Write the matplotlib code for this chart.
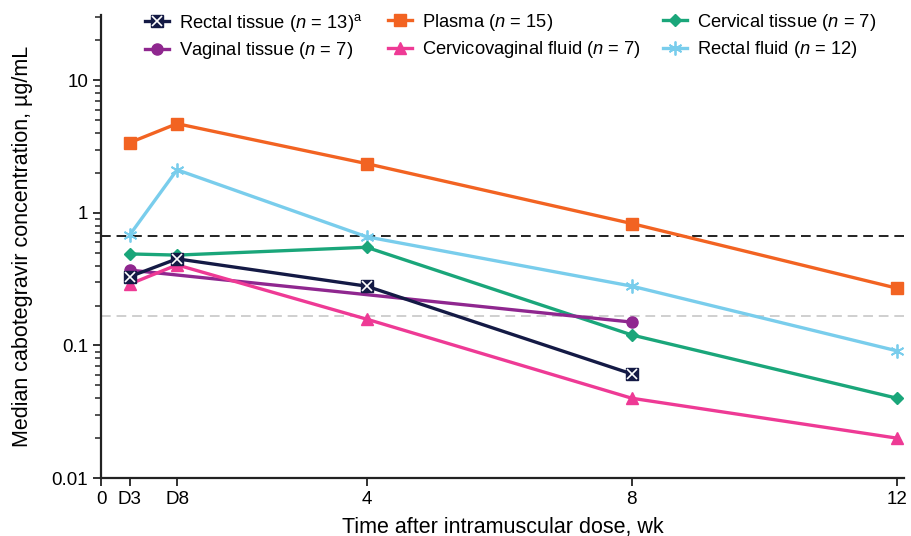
import matplotlib
matplotlib.use("Agg")
import matplotlib.pyplot as plt
from matplotlib.ticker import LogLocator, FixedLocator, NullFormatter

plt.rcParams['font.family'] = ['Liberation Sans', 'DejaVu Sans']
plt.rcParams['mathtext.fontset'] = 'custom'
plt.rcParams['mathtext.rm'] = 'Liberation Sans'
plt.rcParams['mathtext.it'] = 'Liberation Sans:italic'

# time points in weeks
t_all = [3/7, 8/7, 4, 8, 12]
x_ticks = [0, 3/7, 8/7, 4, 8, 12]
x_ticklabels = ["0", "D3", "D8", "4", "8", "12"]

rectal_tissue_t = [3/7, 8/7, 4, 8]
rectal_tissue = [0.33, 0.45, 0.28, 0.061]
plasma = [3.38, 4.7, 2.35, 0.83, 0.27]
cervical_tissue = [0.49, 0.48, 0.55, 0.12, 0.04]
vaginal_tissue_t = [3/7, 8]
vaginal_tissue = [0.37, 0.15]
cvf = [0.29, 0.405, 0.158, 0.04, 0.02]
rectal_fluid = [0.68, 2.11, 0.66, 0.28, 0.091]

ref_high = 0.664
ref_low = 0.166

c_rt = '#141a45'
c_pl = '#f26322'
c_ct = '#1aa67a'
c_vt = '#8f278f'
c_cvf = '#ee3a95'
c_rf = '#79cdec'

fig = plt.figure(figsize=(9.12, 5.36), dpi=100)
ax = fig.add_axes([0.111, 0.108, 0.880, 0.864])

ax.axhline(ref_high, color='#222222', lw=1.4, ls=(0, (5, 3)), zorder=1)
ax.axhline(ref_low, color='#cfcfcf', lw=1.4, ls=(0, (5, 3)), zorder=1)

lw = 2.4
h_pl, = ax.plot(t_all, plasma, color=c_pl, lw=lw, marker='s', ms=8, zorder=3, clip_on=False)
h_rf, = ax.plot(t_all, rectal_fluid, color=c_rf, lw=lw, marker=(6, 2, 0), ms=10, mew=1.3, zorder=3, clip_on=False)
h_ct, = ax.plot(t_all, cervical_tissue, color=c_ct, lw=lw, marker='D', ms=6, zorder=3, clip_on=False)
h_vt, = ax.plot(vaginal_tissue_t, vaginal_tissue, color=c_vt, lw=lw, marker='o', ms=8, zorder=3, clip_on=False)
h_cvf, = ax.plot(t_all, cvf, color=c_cvf, lw=lw, marker='^', ms=8, zorder=3, clip_on=False)
h_rt, = ax.plot(rectal_tissue_t, rectal_tissue, color=c_rt, lw=lw, marker='s', ms=9, zorder=4, clip_on=False)
h_rtx, = ax.plot(rectal_tissue_t, rectal_tissue, ls='none', color='white', marker='x', ms=7, mew=1.2, zorder=5, clip_on=False)

ax.set_yscale('log')
ax.set_ylim(0.01, 31)
ax.set_xlim(0, 12.1)
ax.yaxis.set_major_locator(FixedLocator([0.01, 0.1, 1, 10]))
ax.set_yticklabels(["0.01", "0.1", "1", "10"])
ax.yaxis.set_minor_locator(LogLocator(base=10, subs=range(2, 10)))
ax.yaxis.set_minor_formatter(NullFormatter())
ax.set_xticks(x_ticks)
ax.set_xticklabels(x_ticklabels)

for s in ['top', 'right']:
    ax.spines[s].set_visible(False)
for s in ['left', 'bottom']:
    ax.spines[s].set_linewidth(1.6)
    ax.spines[s].set_color('#222222')
ax.tick_params(axis='both', which='major', length=6, width=1.3, labelsize=13.5, color='#222222')
ax.tick_params(axis='y', which='minor', length=4, width=1.1, color='#222222')

ax.set_xlabel("Time after intramuscular dose, wk", fontsize=15.5, labelpad=6)
ax.set_ylabel("Median cabotegravir concentration, µg/mL", fontsize=15.5, labelpad=13)

columns = [
    ([(h_rt, h_rtx), h_vt],
     [r"Rectal tissue ($\it{n}$ = 13)$^{\rm a}$", r"Vaginal tissue ($\it{n}$ = 7)"],
     145),
    ([h_pl, h_cvf],
     [r"Plasma ($\it{n}$ = 15)", r"Cervicovaginal fluid ($\it{n}$ = 7)"],
     388),
    ([h_ct, h_rf],
     [r"Cervical tissue ($\it{n}$ = 7)", r"Rectal fluid ($\it{n}$ = 12)"],
     663),
]
for hs, ls_, xpx in columns:
    leg = fig.legend(hs, ls_, ncol=1, frameon=False, fontsize=13.2,
                     loc='upper left', bbox_to_anchor=(xpx / 912, 0.978),
                     handlelength=1.3, handletextpad=0.55,
                     labelspacing=0.35, borderaxespad=0, borderpad=0)

fig.savefig("out.png", dpi=100)
